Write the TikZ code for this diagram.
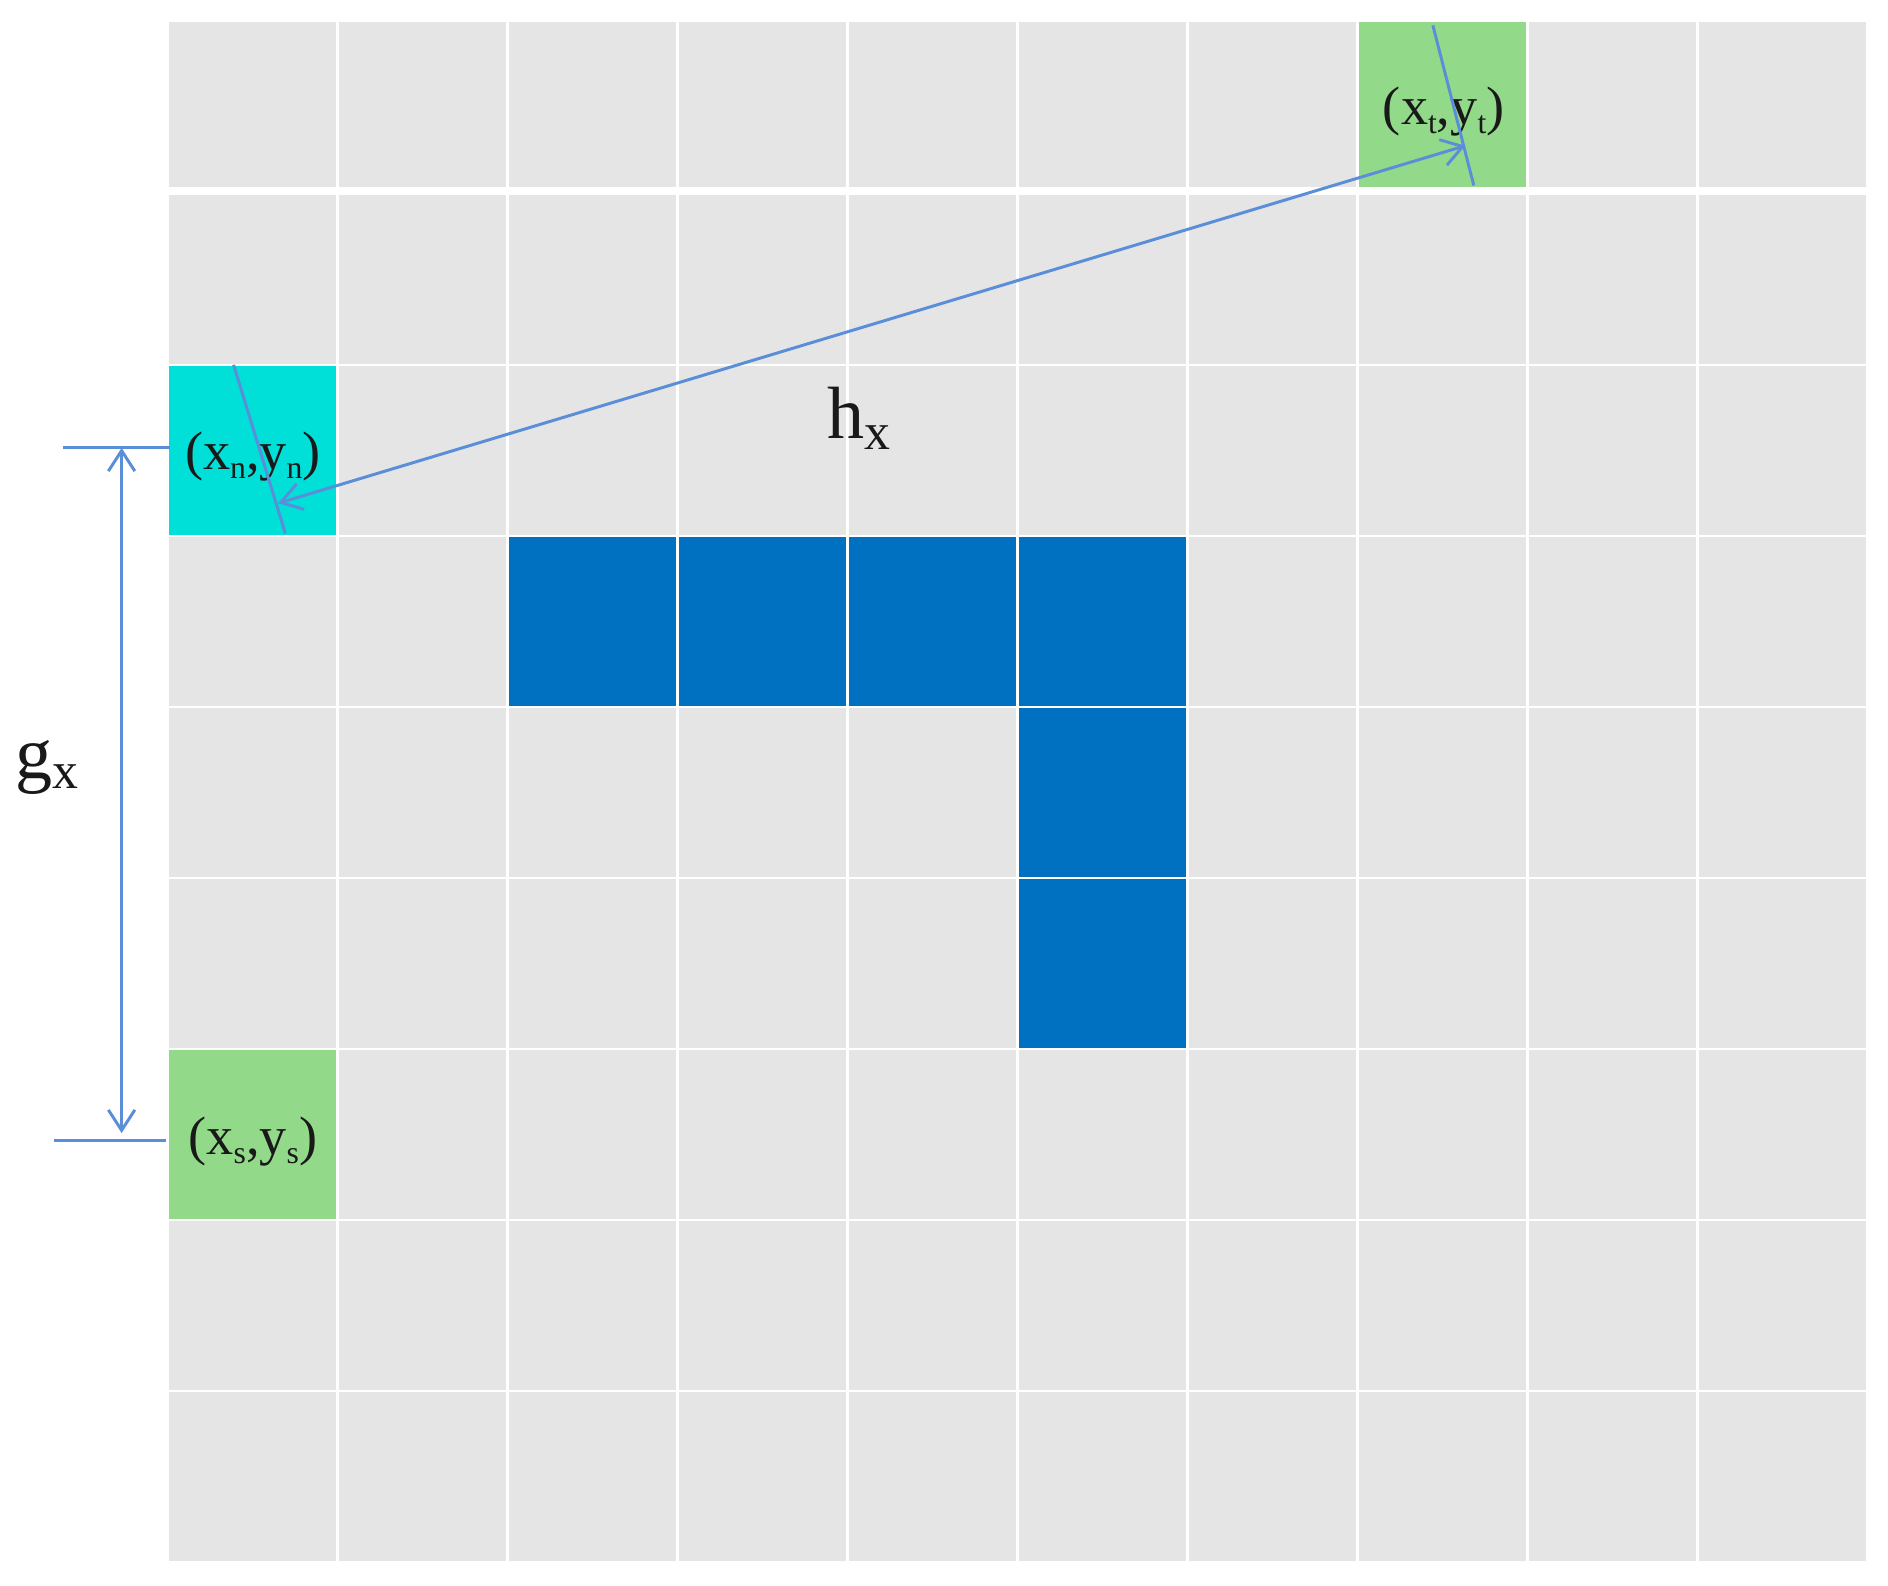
\documentclass[tikz,border=0pt]{standalone}
\usepackage{fontspec}
\setmainfont{Liberation Serif}
\usetikzlibrary{arrows.meta}
\definecolor{cellgrey}{HTML}{E5E5E5}
\definecolor{cellgreen}{HTML}{93D98A}
\definecolor{cellcyan}{HTML}{00DFD8}
\definecolor{cellblue}{HTML}{0070C0}
\definecolor{dimblue}{HTML}{5B8ED8}
\newcommand{\lowsub}[1]{\raisebox{-0.35ex}{\fontsize{7.5}{8}\selectfont #1}}
\tikzset{
  dimline/.style={draw=dimblue, line width=0.7pt},
  dimarrow/.style={dimline, {Straight Barb[length=1.7mm,width=2.2mm]}-{Straight Barb[length=1.7mm,width=2.2mm]}},
  lab/.style={inner sep=0pt, font=\fontsize{12.8}{15}\selectfont, text=black!90},
  biglab/.style={inner sep=0pt, font=\fontsize{17.5}{20}\selectfont, text=black!90},
}
\begin{document}
\begin{tikzpicture}[x=0.1mm,y=-0.1mm]
\useasboundingbox (0,0) rectangle (1568,1317);
\fill[white] (0,0) rectangle (1568,1317);
% grid
\foreach \c in {0,...,9} {
  \fill[cellgrey] ({140+141.2*\c},18) rectangle ++(139,137);
  \foreach \r in {1,...,8}
    \fill[cellgrey] ({140+141.2*\c},{162+142*(\r-1)}) rectangle ++(139,140);
}
% coloured cells
\fill[cellgreen] ({140+141.2*7},18) rectangle ++(139,137);
\fill[cellcyan] (140,304) rectangle ++(139,140);
\fill[cellgreen] (140,872) rectangle ++(139,140);
\foreach \c in {2,...,5}
  \fill[cellblue] ({140+141.2*\c},446) rectangle ++(139,140);
\foreach \r in {588,730}
  \fill[cellblue] ({140+141.2*5},\r) rectangle ++(139,140);
% labels
\node[lab] (lt) at (1199,93) {(x\lowsub{t},y\lowsub{t})};
\node[lab] (ln) at (210,379) {(x\lowsub{n},y\lowsub{n})};
\node[lab] (ls) at (210,948) {(x\lowsub{s},y\lowsub{s})};
\node[biglab] (hx) at (714,347) {h\textsubscript{x}};
\node[biglab] (gx) at (40,637) {g\textsubscript{x}};
% dimension h
\coordinate (hA) at (231,418);
\coordinate (hB) at (1217,121);
\draw[dimarrow] (hA) -- (hB);
\coordinate (tn1) at (194,303);
\coordinate (tn2) at (237,443);
\draw[dimline] (tn1) -- (tn2);
\coordinate (tt1) at (1190,21);
\coordinate (tt2) at (1224,154);
\draw[dimline] (tt1) -- (tt2);
% dimension g
\coordinate (gA) at (101,372);
\coordinate (gB) at (101,941);
\draw[dimarrow] (gA) -- (gB);
\coordinate (e1a) at (52,372);
\coordinate (e1b) at (141,372);
\draw[dimline] (e1a) -- (e1b);
\coordinate (e2a) at (45,947);
\coordinate (e2b) at (138,947);
\draw[dimline] (e2a) -- (e2b);
\end{tikzpicture}
\end{document}
